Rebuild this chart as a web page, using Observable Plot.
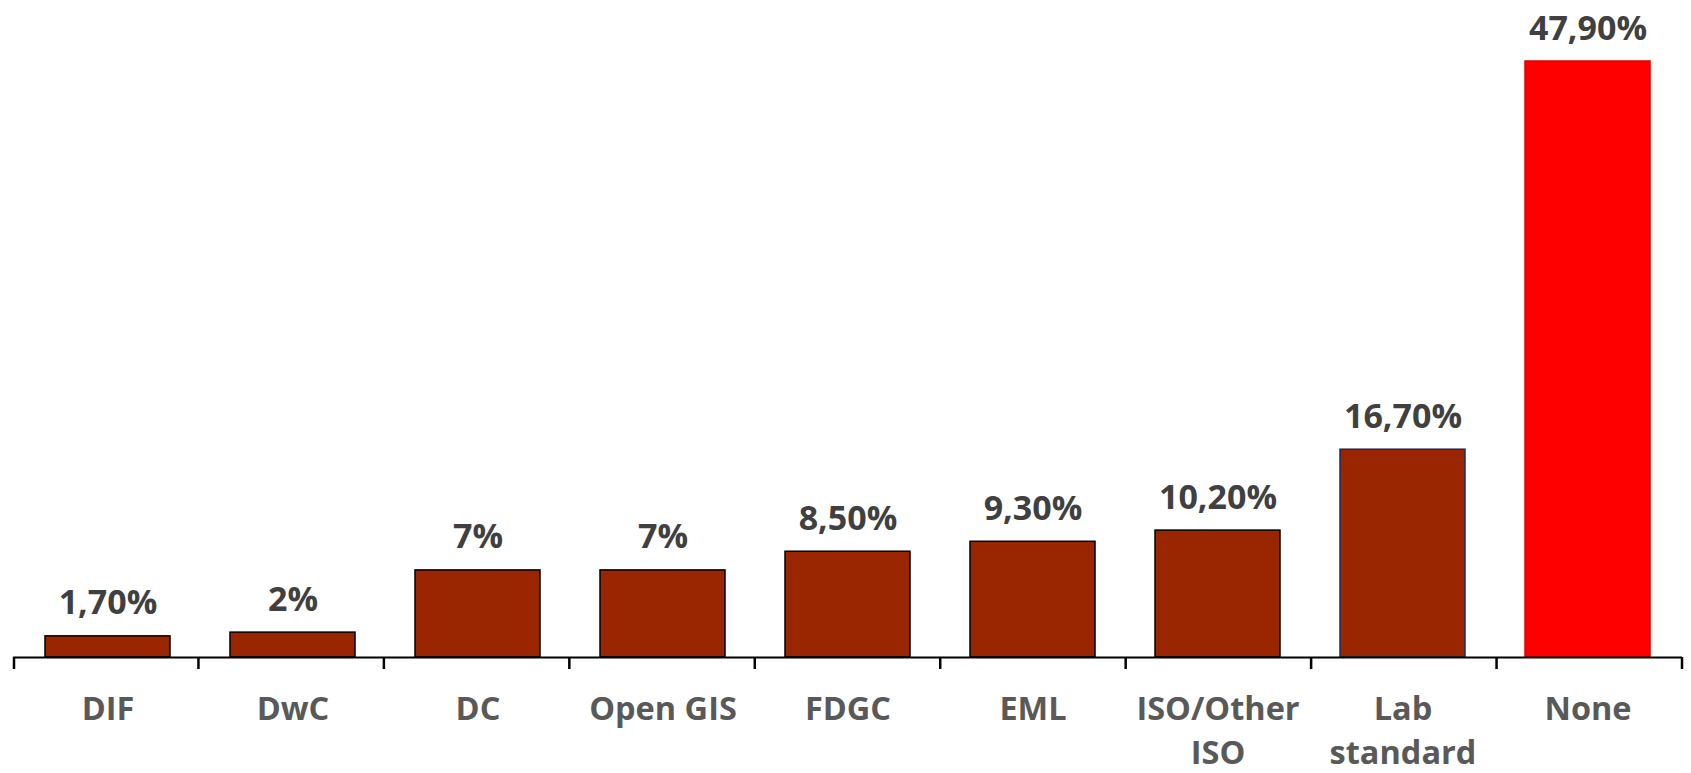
<!DOCTYPE html>
<html>
<head>
<meta charset="utf-8">
<script src="https://cdn.jsdelivr.net/npm/d3@7"></script>
<script src="https://cdn.jsdelivr.net/npm/@observablehq/plot@0.6"></script>
<style>
  html, body { margin: 0; padding: 0; background: #fff; overflow: hidden; }
  #chart svg { display: block; }
</style>
</head>
<body>
<div id="chart"></div>
<script>
const categories = ["DIF", "DwC", "DC", "Open GIS", "FDGC", "EML", "ISO/Other\nISO", "Lab\nstandard", "None"];
const values = [1.7, 2, 7, 7, 8.5, 9.3, 10.2, 16.7, 47.9];
const valueLabels = ["1,70%", "2%", "7%", "7%", "8,50%", "9,30%", "10,20%", "16,70%", "47,90%"];

const data = categories.map((c, i) => ({category: c, value: values[i], label: valueLabels[i]}));

const barFill = d => d.category === "None" ? "#FF0000" : "#992600";
const barStroke = d => d.category === "None" ? "#E00000" : d.category.startsWith("Lab") ? "#1F2A5C" : "#000000";

function boundaryTicks(index, scales, values, dimensions) {
  const {width, marginLeft, marginRight} = dimensions;
  const n = categories.length;
  const step = (width - marginLeft - marginRight) / n;
  const y0 = scales.y(0);
  const g = d3.create("svg:g");
  g.selectAll("line").data(d3.range(n + 1)).join("line")
    .attr("x1", i => marginLeft + i * step + (i === 0 ? 1 : 0))
    .attr("x2", i => marginLeft + i * step + (i === 0 ? 1 : 0))
    .attr("y1", y0)
    .attr("y2", y0 + 12)
    .attr("stroke", "#000")
    .attr("stroke-width", 2.5);
  return g.node();
}

const chart = Plot.plot({
  width: 1691,
  height: 773,
  marginTop: 61,
  marginBottom: 116,
  marginLeft: 13,
  marginRight: 9,
  style: {fontFamily: "'Open Sans', sans-serif", background: "#fff"},
  x: {domain: categories, paddingInner: 0.325, paddingOuter: 0.1625, label: null},
  y: {domain: [0, 47.9], axis: null},
  marks: [
    Plot.barY(data, {x: "category", y: "value", fill: barFill, stroke: barStroke, strokeWidth: 1.5}),
    Plot.ruleY([0], {stroke: "#000", strokeWidth: 2}),
    boundaryTicks,
    Plot.text(data, {x: "category", y: "value", text: "label", lineAnchor: "bottom", dy: -22,
      fontSize: 34, fontWeight: "bold", fill: "#404040"}),
    Plot.axisX({tickSize: 0, tickPadding: 31, fontSize: 32.5, fontWeight: "bold", fill: "#595959",
      lineHeight: 1.36, label: null, textOverflow: null, lineWidth: Infinity})
  ]
});

document.getElementById("chart").appendChild(chart);
</script>
</body>
</html>
